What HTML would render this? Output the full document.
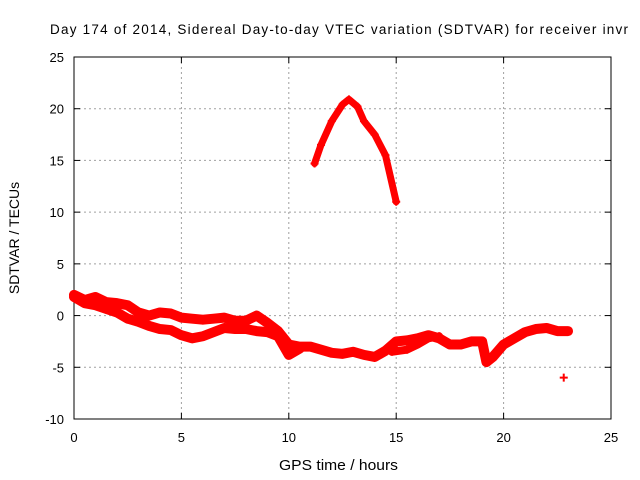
<!DOCTYPE html>
<html><head><meta charset="utf-8"><style>body{margin:0;background:#fff}svg{display:block;font-family:"Liberation Sans",sans-serif}</style></head>
<body>
<svg id="c" width="640" height="480"></svg>
<script>
const xTicks=[0,5,10,15,20,25];
const yTicks=[25,20,15,10,5,0,-5,-10];
const upperT=[0,0.5,1,1.5,2,2.5,3,3.5,4,4.5,5,5.5,6,6.5,7,7.5,8,8.5,9,9.5,10,10.5,11,11.5,12,12.5,13,13.5,14,14.5,15,15.5,16,16.5,17,17.5,18,18.5,19,19.2,19.5,20,20.5,21,21.5,22,22.5,23];
const upperV=[2.0,1.5,1.8,1.3,1.2,1.0,0.3,0,0.3,0.2,-0.2,-0.3,-0.4,-0.3,-0.2,-0.5,-0.5,0,-0.7,-1.5,-2.8,-3.0,-3.0,-3.3,-3.6,-3.7,-3.5,-3.8,-4.0,-3.4,-2.5,-2.4,-2.2,-1.9,-2.2,-2.8,-2.8,-2.5,-2.5,-4.5,-4.0,-2.8,-2.2,-1.6,-1.3,-1.2,-1.5,-1.5];
const lowerT=[0,0.5,1,2,2.5,3,3.5,4,4.5,5,5.5,6,6.5,7,7.5,8,8.5,9,9.5,10,10.5];
const lowerV=[1.8,1.2,1.0,0.3,-0.3,-0.6,-1.0,-1.3,-1.4,-1.9,-2.2,-2.0,-1.6,-1.2,-1.3,-1.3,-1.5,-1.6,-2.0,-3.8,-3.2];
const midT=[14.8,15.5,16,16.5,17];
const midV=[-3.5,-3.3,-2.8,-2.2,-2.0];
const arcT=[11.2,11.5,12,12.5,12.8,13.2,13.5,14,14.5,15];
const arcV=[14.7,16.5,18.8,20.4,20.9,20.2,18.8,17.5,15.5,11.0];
const outT=[22.8], outV=[-6];
const X0=74,X1=611,Y0=419,Y1=57;
const sx=v=>X0+(v-0)/25*(X1-X0);
const sy=v=>Y0-(v+10)/35*(Y0-Y1);
const svg=document.getElementById('c');const NS='http://www.w3.org/2000/svg';
function mk(t,a,p){const e=document.createElementNS(NS,t);for(const k in a)e.setAttribute(k,a[k]);(p||svg).appendChild(e);return e;}
xTicks.forEach(v=>{const x=sx(v);
 if(v>0&&v<25){const g=mk('line',{x1:x,x2:x,y1:Y0,y2:Y1,stroke:'#a0a0a0','stroke-dasharray':'2,3'});}
 mk('line',{x1:x,x2:x,y1:Y0,y2:Y0-6,stroke:'#000'});mk('line',{x1:x,x2:x,y1:Y1,y2:Y1+6,stroke:'#000'});
 const t=mk('text',{x:x,y:Y0+23,'text-anchor':'middle','font-size':13});t.textContent=v;});
yTicks.forEach(v=>{const y=sy(v);
 if(v>-10&&v<25){const g=mk('line',{x1:X0,x2:X1,y1:y,y2:y,stroke:'#a0a0a0','stroke-dasharray':'2,3'});}
 mk('line',{x1:X0,x2:X0+6,y1:y,y2:y,stroke:'#000'});mk('line',{x1:X1,x2:X1-6,y1:y,y2:y,stroke:'#000'});
 const t=mk('text',{x:X0-10,y:y+5,'text-anchor':'end','font-size':13});t.textContent=v;});
const fr=mk('rect',{x:X0,y:Y1,width:X1-X0,height:Y0-Y1,fill:'none',stroke:'#000'});

function series(T,V,w,name){
 const p=mk('polyline',{points:T.map((t,i)=>sx(t)+','+sy(V[i])).join(' '),fill:'none',stroke:'#f00','stroke-width':w,'stroke-linejoin':'round','stroke-linecap':'round'});
 
 T.forEach((t,i)=>{const x=sx(t),y=sy(V[i]);
  const m=mk('path',{d:`M${x-4},${y}h8M${x},${y-4}v8`,stroke:'#f00','stroke-width':2});
  });
}
series(upperT,upperV,10,'series-upper-strand');
series(lowerT,lowerV,10,'series-lower-strand');
series(midT,midV,8,'series-mid-strand');
series(arcT,arcV,7,'series-arc');
series(outT,outV,0,'series-outlier');
const ti=mk('text',{x:50,y:34,'font-size':13.5,textLength:578,lengthAdjust:'spacing'});ti.textContent='Day 174 of 2014, Sidereal Day-to-day VTEC variation (SDTVAR) for receiver invr';

const xl=mk('text',{x:279,y:470,'font-size':14.5,textLength:119,lengthAdjust:'spacingAndGlyphs'});xl.textContent='GPS time / hours';

const yl=mk('text',{x:19,y:238,'text-anchor':'middle','font-size':14,transform:'rotate(-90 19 238)'});yl.textContent='SDTVAR / TECUs';

</script>
</body></html>
